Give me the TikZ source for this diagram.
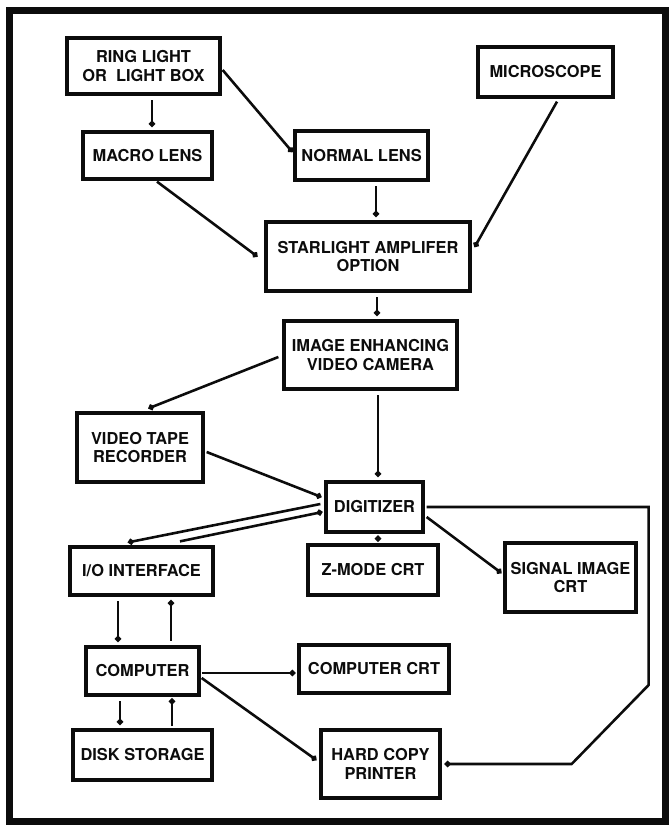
\documentclass[tikz,border=0pt]{standalone}
\usepackage{fontspec}
\setmainfont{TeX Gyre Heros}
\usepackage{tikz}
\usetikzlibrary{arrows.meta,calc}
\definecolor{ink}{RGB}{12,12,12}
\tikzset{box/.style={draw=ink,line width=2.8pt,inner sep=2pt,align=center,text=ink,
    font=\fontsize{14}{16}\selectfont\bfseries},
  flow/.style={-{Circle[length=5pt]},line width=2.2pt,ink},
  gap/.style={shorten <=4pt,shorten >=3pt}}

\begin{document}
\begin{tikzpicture}[x=0.03cm,y=-0.03cm]
\useasboundingbox (0,0) rectangle (668,825);
\draw[ink,line width=0.21cm] (9.5,11) rectangle (665.5,821.5);
% optics
\node[box,minimum width=4.59cm,minimum height=1.68cm] (ring) at (143.5,66) {RING LIGHT\\OR\ \ LIGHT BOX};
\node[box,minimum width=4.05cm,minimum height=1.5cm] (micro) at (545.5,72) {MICROSCOPE};
\node[box,minimum width=3.87cm,minimum height=1.41cm] (macro) at (147.5,155.5) {MACRO LENS};
\node[box,minimum width=3.99cm,minimum height=1.47cm] (normal) at (361.5,155.5) {NORMAL LENS};
\node[box,minimum width=6.12cm,minimum height=2.07cm] (star) at (368,256.5) {STARLIGHT AMPLIFER\\OPTION};
\node[box,minimum width=5.19cm,minimum height=2.04cm] (camera) at (370.5,355) {IMAGE ENHANCING\\VIDEO CAMERA};
% capture and display
\node[box,minimum width=3.78cm,minimum height=2.07cm] (vtr) at (140,447.5) {VIDEO TAPE\\RECORDER};
\node[box,minimum width=2.91cm,minimum height=1.5cm] (digit) at (374.5,507) {DIGITIZER};
\node[box,minimum width=4.29cm,minimum height=1.44cm] (io) at (141.5,571) {I/O INTERFACE};
\node[box,minimum width=3.9cm,minimum height=1.5cm] (zmode) at (373,570) {Z-MODE CRT};
\node[box,minimum width=3.93cm,minimum height=2.07cm] (signal) at (570.5,577.5) {SIGNAL IMAGE\\CRT};
\node[box,minimum width=3.39cm,minimum height=1.44cm] (comp) at (142.5,671) {COMPUTER};
\node[box,minimum width=4.5cm,minimum height=1.44cm] (ccrt) at (374,669) {COMPUTER CRT};
\node[box,minimum width=4.17cm,minimum height=1.5cm] (disk) at (142.5,755) {DISK STORAGE};
\node[box,minimum width=3.57cm,minimum height=2.04cm] (hard) at (380.5,764) {HARD COPY\\PRINTER};
% connectors
\draw[flow,gap] ($(ring.south)+(8.5,0)$) -- ($(macro.north)+(4.5,0)$);
\draw[flow] ($(ring.east)+(1,4)$) -- ($(normal.west)+(-1,-3.5)$);
\draw[flow,gap] ($(normal.south)+(14.5,0)$) -- ($(star.north)+(8,0)$);
\draw[flow] ($(macro.south)+(9.5,1)$) -- ($(star.west)+(-7,0)$);
\draw[flow] ($(micro.south)+(11.5,3)$) -- ($(star.east)+(3,-9.5)$);
\draw[flow,gap] ($(star.south)+(9,0)$) -- ($(camera.north)+(6.5,0)$);
\draw[flow] ($(camera.west)+(-4,2)$) -- ($(vtr.north)+(8.5,-3)$);
\draw[flow,gap] ($(camera.south)+(7.5,0)$) -- ($(digit.north)+(3.5,0)$);
\draw[flow] ($(vtr.east)+(2,4.5)$) -- ($(digit.west)+(-3,-10)$);
\draw[flow] ($(digit.west)+(-4,-3)$) -- ($(io.north)+(-13.5,-3)$);
\draw[flow] ($(io.north)+(38.5,-4)$) -- ($(digit.west)+(-2,5)$);
\draw[flow,shorten <=2pt,shorten >=1.5pt] ($(digit.south)+(3.5,0)$) -- ($(zmode.north)+(5,0)$);
\draw[flow] ($(digit.east)+(2,10)$) -- ($(signal.west)+(-2,-4.5)$);
\draw[flow] ($(digit.east)+(2,0)$) -- ++(222,0) -- ++(0,178) -- ++(-77,79) -- ($(hard.east)+(3,0)$);
\draw[flow,gap] ($(io.south)+(-23.5,0)$) -- ($(comp.north)+(-24.5,0)$);
\draw[flow,gap] ($(comp.north)+(28.5,0)$) -- ($(io.south)+(29.5,0)$);
\draw[flow,gap] ($(comp.south)+(-22.5,0)$) -- ($(disk.north)+(-22.5,0)$);
\draw[flow,shorten <=2pt,shorten >=1.5pt] ($(disk.north)+(29.5,0)$) -- ($(comp.south)+(29.5,0)$);
\draw[flow] ($(comp.east)+(1,2)$) -- ($(ccrt.west)+(-2,4)$);
\draw[flow] ($(comp.east)+(1,7)$) -- ($(hard.west)+(-3,-4)$);
\end{tikzpicture}
\end{document}
